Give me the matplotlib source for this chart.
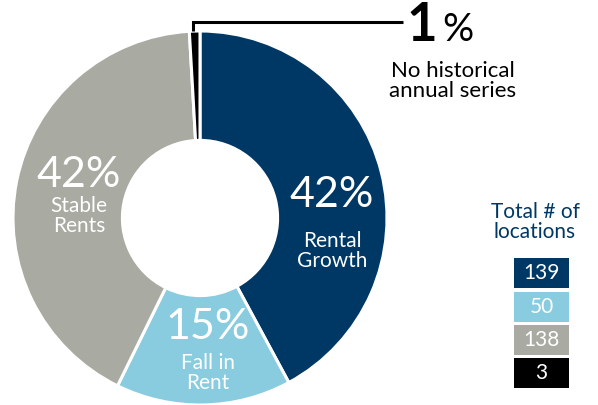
import matplotlib.pyplot as plt

plt.rcParams['font.family'] = ['Lato', 'DejaVu Sans']

# %% data
labels = ["Rental\nGrowth", "Fall in\nRent", "Stable\nRents", "No historical\nannual series"]
counts = [139, 50, 138, 3]
colors = ["#003865", "#89cbdf", "#a9aaa2", "#000000"]
legend_title = "Total # of\nlocations"

total = sum(counts)
pcts = [round(c / total * 100) for c in counts]

# %% figure in pixel coordinates (y up)
W, H = 598, 405
fig = plt.figure(figsize=(W / 100, H / 100), dpi=100)
ax = fig.add_axes([0, 0, 1, 1])

cx, cy, R = 200, H - 218, 187
ax.pie(counts, colors=colors, startangle=90, counterclock=False,
       center=(cx, cy), radius=R,
       wedgeprops=dict(width=R * 0.585, edgecolor="white", linewidth=2.2))
ax.set_xlim(0, W)
ax.set_ylim(0, H)
ax.set_aspect("equal")
ax.axis("off")

# in-slice labels
spots = [(332, 195, 240), (208, 327, 362), (79, 175, 205)]
for (x, yp, yl), p, lab in zip(spots, pcts[:3], labels[:3]):
    ax.text(x, H - yp, f"{p}%", color="white", fontsize=31, ha="center", va="center")
    ax.text(x, H - yl - 11, lab, color="white", fontsize=15, ha="center", va="center",
            linespacing=1.0)

# leader for the small black slice
ax.plot([193, 193, 403], [H - 31, H - 22, H - 22], color="black", lw=2.2,
        solid_capstyle="butt", solid_joinstyle="miter")
ax.text(437, H - 41, str(pcts[3]), fontsize=38, fontweight="bold", ha="right",
        va="baseline", color="black")
ax.text(442, H - 41, "%", fontsize=28, ha="left", va="baseline", color="black")
ax.text(453, H - 81, labels[3], fontsize=16, ha="center", va="center", linespacing=0.95)

# legend boxes
ax.text(535, H - 222, legend_title, fontsize=15, color="#003865", ha="center",
        va="center", linespacing=1.0)
box_tops = [258, 292, 325, 358]
for top, c, col in zip(box_tops, counts, colors):
    ax.add_patch(plt.Rectangle((514, H - top - 30), 55, 30, color=col, lw=0))
    ax.text(541.5, H - top - 15, str(c), color="white", fontsize=15, ha="center",
            va="center")

fig.savefig("out.png", dpi=100)
